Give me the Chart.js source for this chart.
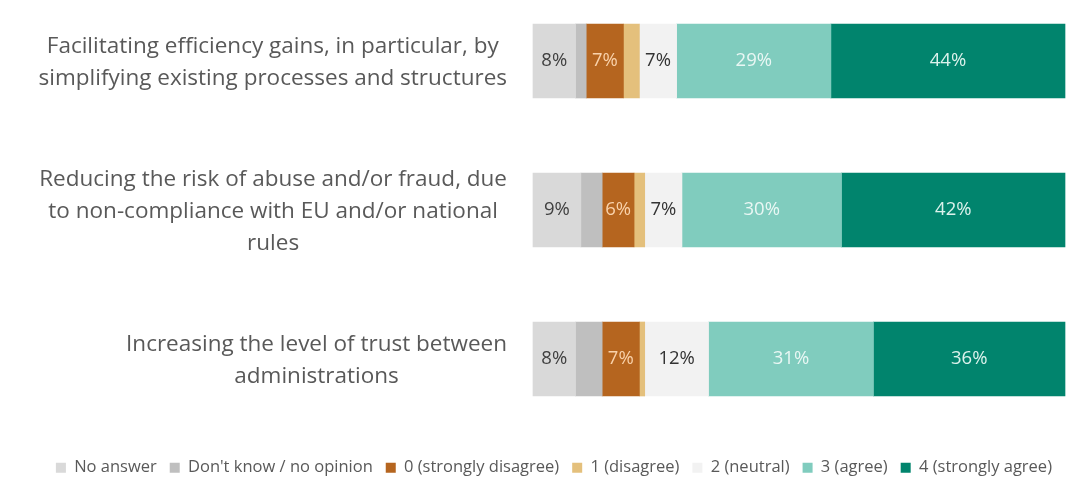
<!DOCTYPE html>
<html lang="en">
<head>
    <meta charset="UTF-8">
    <meta name="viewport" content="width=device-width, initial-scale=1.0">
    <title>Expected benefits - survey answers</title>
    <script src="https://cdn.jsdelivr.net/npm/chart.js"></script>
    <style>
        html, body {
            margin: 0;
            padding: 0;
            background-color: #ffffff;
        }
        .chart-container {
            width: 1067px;
            height: 482px;
        }
    </style>
</head>
<body>
    <div class="chart-container">
        <canvas id="benefitsChart"></canvas>
    </div>
    <script>
        // Statements (one bar each), split into lines
        const statements = [
            ['Facilitating efficiency gains, in particular, by', 'simplifying existing processes and structures'],
            ['Reducing the risk of abuse and/or fraud, due', 'to non-compliance with EU and/or national', 'rules'],
            ['Increasing the level of trust between', 'administrations']
        ];

        // Answer shares in %, one array per answer option
        const noAnswer = [8, 9, 8];
        const dontKnow = [2, 4, 5];
        const stronglyDisagree = [7, 6, 7];
        const disagree = [3, 2, 1];
        const neutral = [7, 7, 12];
        const agree = [29, 30, 31];
        const stronglyAgree = [44, 42, 36];

        const answerNames = ['No answer', "Don't know / no opinion", '0 (strongly disagree)', '1 (disagree)', '2 (neutral)', '3 (agree)', '4 (strongly agree)'];
        const answerValues = [noAnswer, dontKnow, stronglyDisagree, disagree, neutral, agree, stronglyAgree];
        const answerColors = ['#d9d9d9', '#bfbfbf', '#b5651f', '#e4c07c', '#f2f2f2', '#80ccbe', '#01846d'];
        // colour of the % text inside each segment, null = no text
        const valueColors = ['#404040', null, '#f9d2ab', null, '#333333', '#e9f7f4', '#dcf2ec'];

        const LABEL_FONT = '22.5px "Open Sans"';
        const LABEL_LINE = 32;

        // writes the % value in the middle of each segment
        const valueLabels = {
            id: 'valueLabels',
            afterDatasetsDraw(chart) {
                const ctx = chart.ctx;
                ctx.save();
                ctx.font = '18.5px "Open Sans"';
                ctx.textAlign = 'center';
                ctx.textBaseline = 'middle';
                chart.data.datasets.forEach((ds, i) => {
                    if (!valueColors[i]) return;
                    ctx.fillStyle = valueColors[i];
                    chart.getDatasetMeta(i).data.forEach((bar, j) => {
                        const p = bar.getCenterPoint();
                        ctx.fillText(ds.data[j] + '%', p.x, p.y);
                    });
                });
                ctx.restore();
            }
        };

        // statement text: block right-aligned to the bars, lines centred within the block
        const statementLabels = {
            id: 'statementLabels',
            afterDraw(chart) {
                const ctx = chart.ctx;
                const yScale = chart.scales.y;
                const right = chart.chartArea.left - 26;
                ctx.save();
                ctx.font = LABEL_FONT;
                ctx.fillStyle = '#595959';
                ctx.textAlign = 'center';
                ctx.textBaseline = 'middle';
                statements.forEach((lines, i) => {
                    const w = Math.max(...lines.map(l => ctx.measureText(l).width));
                    const cx = right - w / 2;
                    const cy = yScale.getPixelForTick(i) + 2;
                    const top = cy - (lines.length - 1) * LABEL_LINE / 2;
                    lines.forEach((l, k) => ctx.fillText(l, cx, top + k * LABEL_LINE));
                });
                ctx.restore();
            }
        };

        const ctx = document.getElementById('benefitsChart').getContext('2d');
        new Chart(ctx, {
            type: 'bar',
            data: {
                labels: statements,
                datasets: answerNames.map((name, i) => ({
                    label: name,
                    data: answerValues[i],
                    backgroundColor: answerColors[i],
                    borderWidth: 0,
                    barThickness: 74,
                    clip: false
                }))
            },
            options: {
                indexAxis: 'y',
                responsive: true,
                maintainAspectRatio: false,
                animation: false,
                layout: {
                    padding: { top: 61, right: 2, left: 0, bottom: -4 }
                },
                scales: {
                    x: {
                        stacked: true,
                        min: 0,
                        max: 100,
                        grid: { display: false, drawTicks: false },
                        border: { display: false },
                        ticks: { display: false },
                        afterFit(scale) { scale.height = 87.5; }
                    },
                    y: {
                        stacked: true,
                        offset: false,
                        grid: { display: false, drawTicks: false },
                        border: { display: false },
                        ticks: { display: false },
                        afterFit(scale) { scale.width = 533; }
                    }
                },
                plugins: {
                    legend: {
                        position: 'bottom',
                        align: 'end',
                        labels: {
                            boxWidth: 10,
                            boxHeight: 10,
                            padding: 13,
                            color: '#595959',
                            font: { family: 'Open Sans', size: 16.5 }
                        }
                    },
                    tooltip: { enabled: false }
                }
            },
            plugins: [valueLabels, statementLabels]
        });
    </script>
</body>
</html>
